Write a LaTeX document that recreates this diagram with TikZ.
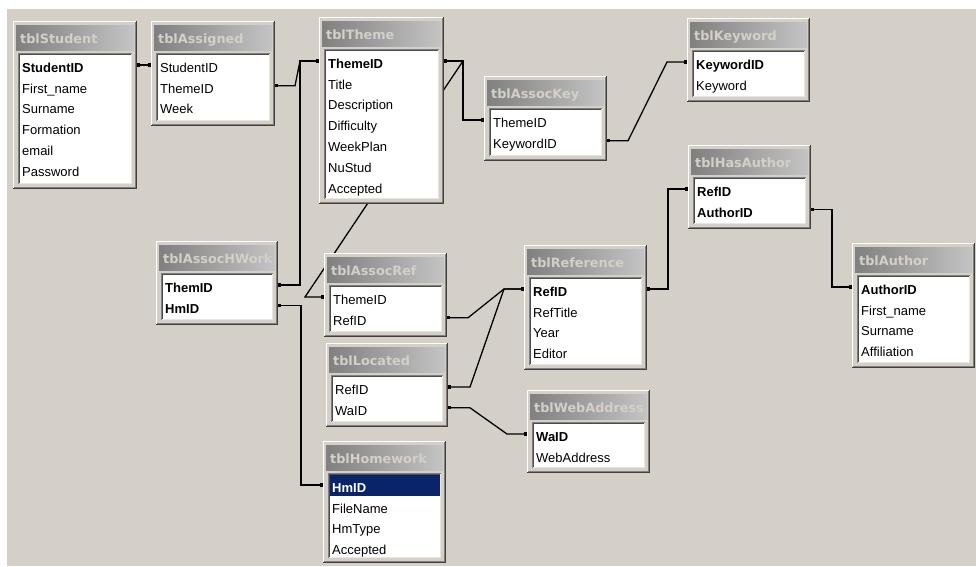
\documentclass[tikz,border=0pt]{standalone}
\usepackage{fontspec}
\setmainfont{Liberation Sans}
\newfontfamily\ttlfont{DejaVu Sans}
\usetikzlibrary{calc,arrows.meta}
\definecolor{facec}{HTML}{D4D0C8}
\definecolor{tgl}{HTML}{808080}
\definecolor{tgr}{HTML}{C4C4C4}
\definecolor{ttltext}{HTML}{D4D0C8}
\definecolor{selnavy}{HTML}{0A246A}
\definecolor{lightedge}{HTML}{E8E6E0}
\pgfdeclarelayer{back}
\pgfdeclarelayer{conn}
\pgfsetlayers{back,conn,main}
\tikzset{
  fld/.style={font=\fontsize{13}{15}\selectfont, inner sep=0pt, text height=14.4pt, text depth=0pt, anchor=west},
  fldb/.style={fld, font=\fontsize{13}{15}\selectfont\bfseries},
  fldsel/.style={fldb, text=white},
  ttl/.style={font=\ttlfont\bfseries\fontsize{12.8}{14}\selectfont, text=ttltext, inner sep=0pt, anchor=base west},
  conn/.style={line width=1.3pt, black, arrows={Square[length=3pt,width=3.2pt]-Square[length=3pt,width=3.2pt]}},
  edge1/.style={line width=1pt}
}
% #1 name, #2 left, #3 top, #4 right, #5 bottom, #6 title
\newcommand\dbtable[6]{%
  \node[inner sep=0pt, outer sep=0pt, anchor=north west, minimum width={#4-#2}, minimum height={#5-#3}] (#1) at (#2,#3) {};
  \fill[facec] (#2,#3) rectangle (#4,#5);
  \draw[edge1, white] (#2+0.5,#5-1) -- (#2+0.5,#3+0.5) -- (#4-1,#3+0.5);
  \draw[edge1, black!75] (#2,#5-0.5) -- (#4-0.5,#5-0.5) -- (#4-0.5,#3);
  \draw[edge1, tgl] (#2+1,#5-1.5) -- (#4-1.5,#5-1.5) -- (#4-1.5,#3+1);
  \shade[left color=tgl, right color=tgr] (#2+3,#3+4) rectangle (#4-3,#3+29);
  \begin{scope}
    \clip (#2+3,#3+4) rectangle (#4-4,#3+29);
    \node[ttl] (#1-title) at (#2+7,#3+22) {#6};
  \end{scope}
  \fill[white] (#2+5,#3+32) rectangle (#4-5,#5-5);
  \draw[edge1, tgl] (#2+5.5,#5-5) -- (#2+5.5,#3+32.5) -- (#4-5,#3+32.5);
  \draw[edge1, black!70] (#2+6.5,#5-6) -- (#2+6.5,#3+33.5) -- (#4-6,#3+33.5);
  \draw[edge1, lightedge] (#2+6,#5-5.5) -- (#4-5.5,#5-5.5) -- (#4-5.5,#3+33);
}
% #1 node name, #2 table, #3 row, #4 style, #5 text
\newcommand\dbfield[5]{%
  \node[#4] (#1) at ($(#2.north west)+(9,{44+20.8*(#3-1)})$) {#5};
}
\begin{document}
\begin{tikzpicture}[x=1pt,y=-1pt]
\useasboundingbox (0,0) rectangle (976,566);
\begin{pgfonlayer}{back}
  \fill[white] (0,0) rectangle (976,566);
  \fill[facec] (7,9) rectangle (976,566);
\end{pgfonlayer}

% tblStudent
\dbtable{student}{13}{21}{137}{189}{tblStudent}
\dbfield{st1}{student}{1}{fldb}{StudentID}
\dbfield{st2}{student}{2}{fld}{First\_name}
\dbfield{st3}{student}{3}{fld}{Surname}
\dbfield{st4}{student}{4}{fld}{Formation}
\dbfield{st5}{student}{5}{fld}{email}
\dbfield{st6}{student}{6}{fld}{Password}

% tblAssigned
\dbtable{assigned}{151}{21}{275}{126}{tblAssigned}
\dbfield{as1}{assigned}{1}{fld}{StudentID}
\dbfield{as2}{assigned}{2}{fld}{ThemeID}
\dbfield{as3}{assigned}{3}{fld}{Week}

% tblTheme
\dbtable{theme}{319}{17}{444}{204}{tblTheme}
\dbfield{th1}{theme}{1}{fldb}{ThemeID}
\dbfield{th2}{theme}{2}{fld}{Title}
\dbfield{th3}{theme}{3}{fld}{Description}
\dbfield{th4}{theme}{4}{fld}{Difficulty}
\dbfield{th5}{theme}{5}{fld}{WeekPlan}
\dbfield{th6}{theme}{6}{fld}{NuStud}
\dbfield{th7}{theme}{7}{fld}{Accepted}

% tblAssocKey
\dbtable{ak}{484}{76}{607}{161}{tblAssocKey}
\dbfield{ak1}{ak}{1}{fld}{ThemeID}
\dbfield{ak2}{ak}{2}{fld}{KeywordID}

% tblKeyword
\dbtable{kw}{687}{18}{810}{102}{tblKeyword}
\dbfield{kw1}{kw}{1}{fldb}{KeywordID}
\dbfield{kw2}{kw}{2}{fld}{Keyword}

% tblHasAuthor
\dbtable{ha}{688}{145}{811}{229}{tblHasAuthor}
\dbfield{ha1}{ha}{1}{fldb}{RefID}
\dbfield{ha2}{ha}{2}{fldb}{AuthorID}

% tblAuthor
\dbtable{au}{852}{243}{975}{368}{tblAuthor}
\dbfield{au1}{au}{1}{fldb}{AuthorID}
\dbfield{au2}{au}{2}{fld}{First\_name}
\dbfield{au3}{au}{3}{fld}{Surname}
\dbfield{au4}{au}{4}{fld}{Affiliation}

% tblAssocHWork
\dbtable{hw}{156}{241}{278}{325}{tblAssocHWork}
\dbfield{hw1}{hw}{1}{fldb}{ThemID}
\dbfield{hw2}{hw}{2}{fldb}{HmID}

% tblAssocRef
\dbtable{ar}{324}{253}{447}{337}{tblAssocRef}
\dbfield{ar1}{ar}{1}{fld}{ThemeID}
\dbfield{ar2}{ar}{2}{fld}{RefID}

% tblLocated
\dbtable{lo}{326}{343}{448}{427}{tblLocated}
\dbfield{lo1}{lo}{1}{fld}{RefID}
\dbfield{lo2}{lo}{2}{fld}{WaID}

% tblReference
\dbtable{rfc}{524}{245}{647}{370}{tblReference}
\dbfield{rf1}{rfc}{1}{fldb}{RefID}
\dbfield{rf2}{rfc}{2}{fld}{RefTitle}
\dbfield{rf3}{rfc}{3}{fld}{Year}
\dbfield{rf4}{rfc}{4}{fld}{Editor}

% tblWebAddress
\dbtable{wa}{527}{390}{650}{473}{tblWebAddress}
\dbfield{wa1}{wa}{1}{fldb}{WaID}
\dbfield{wa2}{wa}{2}{fld}{WebAddress}

% tblHomework
\dbtable{hm}{323}{441}{446}{563}{tblHomework}
\fill[selnavy] ($(hm.north west)+(6.5,{44-10.5})$) rectangle ($(hm.north east)+(-6,{44+10.5})$);
\dbfield{hm1}{hm}{1}{fldsel}{HmID}
\dbfield{hm2}{hm}{2}{fld}{FileName}
\dbfield{hm3}{hm}{3}{fld}{HmType}
\dbfield{hm4}{hm}{4}{fld}{Accepted}

% connectors
\begin{pgfonlayer}{conn}
  \draw[conn] (student.east |- st1) -- (assigned.west |- as1);
  \draw[conn] (theme.west |- th1) -- ++(-19,0) -- ($(assigned.east |- as2)+(20,0)$) -- (assigned.east |- as2);
  \draw[conn] (theme.west |- th1) -- ++(-19,0) |- (hw.east |- hw1);
  \draw[conn] (theme.east |- th1) -- ++(19,0) |- (ak.west |- ak1);
  \draw[conn] (theme.east |- th1) -- ++(19,0) -- ($(ar.west |- ar1)+(-19,0)$) -- (ar.west |- ar1);
  \draw[conn] (ak.east |- ak2) -- ++(21,0) -- ($(kw.west |- kw1)+(-20,0)$) -- (kw.west |- kw1);
  \draw[conn] (hw.east |- hw2) -- ++(23,0) |- (hm.west |- hm1);
  \draw[conn] (ar.east |- ar2) -- ++(21,0) -- ($(rfc.west |- rf1)+(-20,0)$) -- (rfc.west |- rf1);
  \draw[conn] (lo.east |- lo1) -- ++(22,0) -- ($(rfc.west |- rf1)+(-20,0)$) -- (rfc.west |- rf1);
  \draw[conn] (lo.east |- lo2) -- ++(22,0) -- ($(wa.west |- wa1)+(-20,0)$) -- (wa.west |- wa1);
  \draw[conn] (rfc.east |- rf1) -- ++(21,0) |- (ha.west |- ha1);
  \draw[conn] (ha.east |- ha2) -- ++(21,0) |- (au.west |- au1);
\end{pgfonlayer}
\end{tikzpicture}
\end{document}
